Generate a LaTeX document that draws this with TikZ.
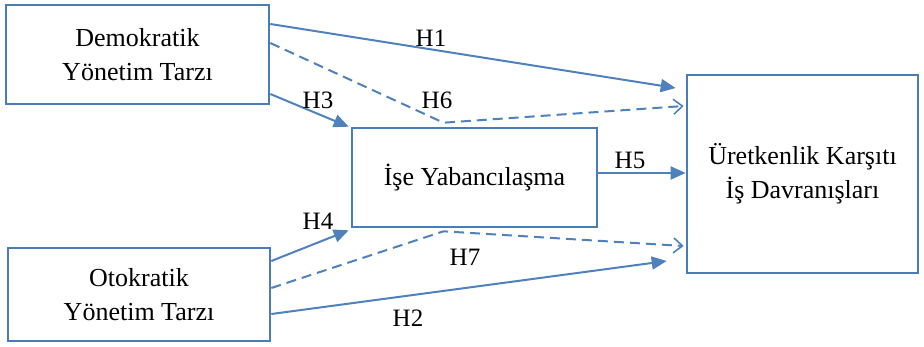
\documentclass[tikz,border=0pt]{standalone}
\usepackage{fontspec}
\setmainfont{Liberation Serif}
\usetikzlibrary{arrows.meta}

\definecolor{hatmavi}{HTML}{4F81BD}
\definecolor{kutumavi}{HTML}{4A7DB8}

\tikzset{
  kutu/.style={draw=kutumavi, line width=2.6pt, rectangle, inner sep=0pt,
    align=center, font=\fontsize{26}{34}\selectfont},
  yol/.style={draw=hatmavi, line width=2pt, -{Triangle[length=15pt,width=13pt]}},
  dolayli/.style={draw=hatmavi, line width=2pt, dash pattern=on 10pt off 6pt,
    -{Straight Barb[length=9pt,width=15pt,line width=1.6pt]}},
  etiket/.style={font=\fontsize{25}{30}\selectfont, inner sep=0pt}
}

\begin{document}
\begin{tikzpicture}[x=1pt, y=-1pt]
\useasboundingbox (0,0) rectangle (924,346);

% kutular
\node[kutu, minimum width=263pt, minimum height=99pt] (dem) at (137.5,54.5) {Demokratik\\ Yönetim Tarzı};
\node[kutu, minimum width=262pt, minimum height=93pt] (oto) at (139,294.5) {Otokratik\\ Yönetim Tarzı};
\node[kutu, minimum width=245pt, minimum height=99pt] (ise) at (474.5,177.5) {İşe Yabancılaşma};
\node[kutu, minimum width=231pt, minimum height=198pt] (ure) at (802.5,174) {Üretkenlik Karşıtı\\ İş Davranışları};

% dolayli yollarin kirilma noktalari
\coordinate (k6) at ([xshift=-31pt,yshift=4pt]ise.north);
\coordinate (k7) at ([xshift=-31pt,yshift=-3pt]ise.south);

% dogrudan yollar
\draw[yol] ([yshift=30.5pt]dem.east) -- ([xshift=-10pt,yshift=86pt]ure.west);
\draw[yol] ([yshift=-19.5pt]oto.east) -- ([xshift=-19pt,yshift=-87pt]ure.west);
\draw[yol] ([yshift=-39.5pt]dem.east) -- ([xshift=-2pt]ise.north west);
\draw[yol] ([yshift=33.5pt]oto.east) -- ([xshift=-2pt,yshift=-2pt]ise.south west);
\draw[yol] ([yshift=4.5pt]ise.east) -- ([yshift=1pt]ure.west);

% dolayli yollar
\draw[dolayli] ([yshift=11.5pt]dem.east) -- (k6) -- ([xshift=-2pt,yshift=68pt]ure.west);
\draw[dolayli] ([yshift=6.5pt]oto.east) -- (k7) -- ([xshift=-2pt,yshift=-72pt]ure.west);

% etiketler
\node[etiket] (h1) at (431,38) {H1};
\node[etiket] (h2) at (408,318) {H2};
\node[etiket] (h3) at (318,100) {H3};
\node[etiket] (h4) at (318,221) {H4};
\node[etiket] (h5) at (630,160) {H5};
\node[etiket] (h6) at (437,100) {H6};
\node[etiket] (h7) at (465,257) {H7};
\end{tikzpicture}
\end{document}
